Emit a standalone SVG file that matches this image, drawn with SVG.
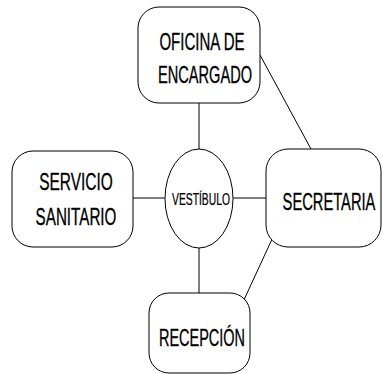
<svg xmlns="http://www.w3.org/2000/svg" width="383" height="374" viewBox="0 0 383 374">
<style>
.box{fill:#fff;stroke:#000;stroke-width:1}
.ln{stroke:#000;stroke-width:1;fill:none}
text{font-family:"Liberation Sans",Arial,sans-serif;font-size:24px;fill:#000;stroke:#000;stroke-width:0.35;text-anchor:middle}
.s{font-size:16px;stroke-width:0.25}
</style>
<rect width="383" height="374" fill="#fff"/>
<g id="connectors">
<line class="ln" x1="199" y1="103" x2="199" y2="149"/>
<line class="ln" x1="199" y1="248" x2="199" y2="293"/>
<line class="ln" x1="133" y1="198" x2="165" y2="198"/>
<line class="ln" x1="233" y1="198" x2="266" y2="198"/>
<line class="ln" x1="260" y1="55" x2="311" y2="149"/>
<line class="ln" x1="273" y1="237" x2="243" y2="302"/>
</g>
<g id="oficina">
<rect class="box" x="138" y="7" width="122" height="96" rx="21" ry="21"/>
<text transform="translate(202 50) scale(0.626 1)">OFICINA DE</text>
<text transform="translate(205 83) scale(0.608 1)">ENCARGADO</text>
</g>
<g id="servicio">
<rect class="box" x="12" y="151" width="121" height="96" rx="21" ry="21"/>
<text transform="translate(76 190) scale(0.645 1)">SERVICIO</text>
<text transform="translate(76 225) scale(0.634 1)">SANITARIO</text>
</g>
<g id="vestibulo">
<ellipse class="box" cx="199" cy="198.5" rx="34" ry="49.5"/>
<text class="s" transform="translate(201 205) scale(0.646 1)">VESTÍBULO</text>
</g>
<g id="secretaria">
<rect class="box" x="266" y="149" width="115" height="98" rx="22" ry="22"/>
<text transform="translate(329 210) scale(0.613 1)">SECRETARIA</text>
</g>
<g id="recepcion">
<rect class="box" x="149" y="293" width="101" height="80" rx="20" ry="20"/>
<text transform="translate(202 346) scale(0.603 1)">RECEPCIÓN</text>
</g>
</svg>
